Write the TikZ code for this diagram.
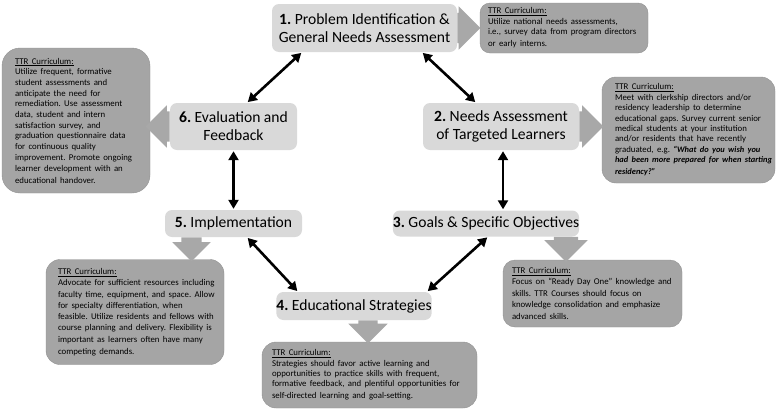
\documentclass[tikz,border=0pt]{standalone}
\usepackage{fontspec}
\setmainfont{Carlito}
\usetikzlibrary{arrows.meta,shapes.arrows}
\frenchspacing
\definecolor{boxgray}{HTML}{D9D9D9}
\definecolor{ttrgray}{HTML}{A5A5A5}
\definecolor{arrgray}{HTML}{A8A8A8}
\tikzset{
  stage/.style={fill=boxgray, rounded corners=7pt, inner sep=0pt, align=center,
    font=\fontsize{15.6}{18}\selectfont},
  ttr/.style={fill=ttrgray, draw=ttrgray!88!black, line width=0.4pt, rounded corners=14pt,
    inner ysep=0pt, align=left},
  blockR/.style={single arrow, fill=arrgray, draw=none, inner xsep=0pt,
    single arrow head indent=0pt},
  blockD/.style={single arrow, fill=arrgray, draw=none, inner ysep=0pt,
    single arrow head indent=0pt, shape border rotate=270},
  link/.style={line width=2.6pt, {Triangle[length=9pt,width=10pt]}-{Triangle[length=9pt,width=10pt]}, shorten <=1pt, shorten >=1pt},
}
\newcommand{\ttrline}[1]{\mbox{#1}\\}
\newcommand{\ttrhead}{\ttrline{\underline{TTR Curriculum:}}}
\newcommand{\ttrquote}[1]{{\fontsize{8.4}{10.4}\selectfont\textbf{\textit{#1}}}}
\begin{document}
\begin{tikzpicture}[x=1pt,y=-1pt]
\useasboundingbox (0,0) rectangle (782,410);

% stage boxes
\node[stage, minimum width=185pt, minimum height=48pt] (b1) at (364.5,28) {\textbf{1.} Problem Identification \&\\General Needs Assessment};
\node[stage, minimum width=156pt, minimum height=47pt] (b2) at (501,126.5) {\textbf{2.} Needs Assessment\\of Targeted Learners};
\node[stage, minimum width=168pt, minimum height=26pt] (b3) at (486,223.5) {\textbf{3.} Goals \& Specific Objectives};
\node[stage, minimum width=152pt, minimum height=28pt] (b4) at (354,306) {\textbf{4.} Educational Strategies};
\node[stage, minimum width=137pt, minimum height=27pt] (b5) at (233.5,223.5) {\textbf{5.} Implementation};
\node[stage, minimum width=127pt, minimum height=47pt] (b6) at (233.5,126.5) {\textbf{6.} Evaluation and\\Feedback};

% TTR boxes
\node[ttr, rounded corners=10pt, inner xsep=8pt, text width=152pt, minimum height=50pt] (t1) at (564,28)
  {\fontsize{8.8}{10.5}\selectfont\ttrhead\ttrline{Utilize national needs assessments,}\ttrline{i.e., survey data from program directors}\mbox{or early interns.}};
\node[ttr, inner xsep=13pt, text width=147pt, minimum height=106pt] (t2) at (688.5,130)
  {\fontsize{8.8}{10.4}\selectfont\ttrhead\ttrline{Meet with clerkship directors and/or}\ttrline{residency leadership to determine}\ttrline{educational gaps. Survey current senior}\ttrline{medical students at your institution}\ttrline{and/or residents that have recently}\ttrline{graduated, e.g. \ttrquote{``What do you wish you}}\ttrline{\ttrquote{had been more prepared for when starting}}\mbox{\ttrquote{residency?''}}};
\node[ttr, rounded corners=12pt, inner xsep=9pt, text width=161pt, minimum height=67pt] (t3) at (592.5,293.5)
  {\fontsize{8.8}{11.3}\selectfont\ttrhead\ttrline{Focus on ``Ready Day One'' knowledge and}\ttrline{skills. TTR Courses should focus on}\ttrline{knowledge consolidation and emphasize}\mbox{advanced skills.}};
\node[ttr, inner xsep=10pt, text width=195pt, minimum height=66pt] (t4) at (369.5,375)
  {\fontsize{8.8}{10.4}\selectfont\ttrhead\ttrline{Strategies should favor active learning and}\ttrline{opportunities to practice skills with frequent,}\ttrline{formative feedback, and plentiful opportunities for}\mbox{self-directed learning and goal-setting.}};
\node[ttr, inner xsep=12pt, text width=154pt, minimum height=105pt] (t5) at (135,312)
  {\fontsize{8.8}{11.3}\selectfont\ttrhead\ttrline{Advocate for sufficient resources including}\ttrline{faculty time, equipment, and space. Allow}\ttrline{for specialty differentiation, when}\ttrline{feasible. Utilize residents and fellows with}\ttrline{course planning and delivery. Flexibility is}\ttrline{important as learners often have many}\mbox{competing demands.}};
\node[ttr, rounded corners=18pt, inner xsep=13pt, text width=122pt, minimum height=145pt] (t6) at (76,120.5)
  {\fontsize{8.8}{10.7}\selectfont\ttrhead\ttrline{Utilize frequent, formative}\ttrline{student assessments and}\ttrline{anticipate the need for}\ttrline{remediation. Use assessment}\ttrline{data, student and intern}\ttrline{satisfaction survey, and}\ttrline{graduation questionnaire data}\ttrline{for continuous quality}\ttrline{improvement. Promote ongoing}\ttrline{learner development with an}\mbox{educational handover.}};

% block arrows
\node[blockR, anchor=tail, inner ysep=15pt, single arrow head extend=6.5pt, minimum height=23pt] (a1) at (b1.east) {};
\node[blockR, anchor=tail, inner ysep=15pt, single arrow head extend=6pt, minimum height=24pt] (a2) at (b2.east) {};
\node[blockR, anchor=tail, shape border rotate=180, inner ysep=15pt, single arrow head extend=6pt, minimum height=24pt] (a6) at (b6.west) {};
\node[blockD, anchor=tail, inner xsep=10pt, single arrow head extend=9pt, minimum height=24pt] (a5) at ([xshift=-42pt]b5.south) {};
\node[blockD, anchor=tail, inner xsep=12pt, single arrow head extend=9.5pt, minimum height=25pt] (a3) at ([xshift=80pt]b3.south) {};
\node[blockD, anchor=tail, inner xsep=9.5pt, single arrow head extend=10pt, minimum height=23pt] (a4) at ([xshift=14pt]b4.south) {};

% double-headed links
\draw[link] ([xshift=57.5pt]b1.south) -- ([xshift=-25pt]b2.north);
\draw[link] ([xshift=-62.5pt]b1.south) -- ([xshift=13.5pt]b6.north);
\draw[link] ([xshift=2pt]b2.south) -- ([xshift=2pt]b2.south |- b3.north);
\draw[link] (b6.south) -- (b6.south |- b5.north);
\draw[link] ([xshift=13.5pt]b5.south) -- ([xshift=-56pt]b4.north);
\draw[link] ([xshift=73pt]b4.north) -- ([xshift=2pt]b3.south);
\end{tikzpicture}
\end{document}
